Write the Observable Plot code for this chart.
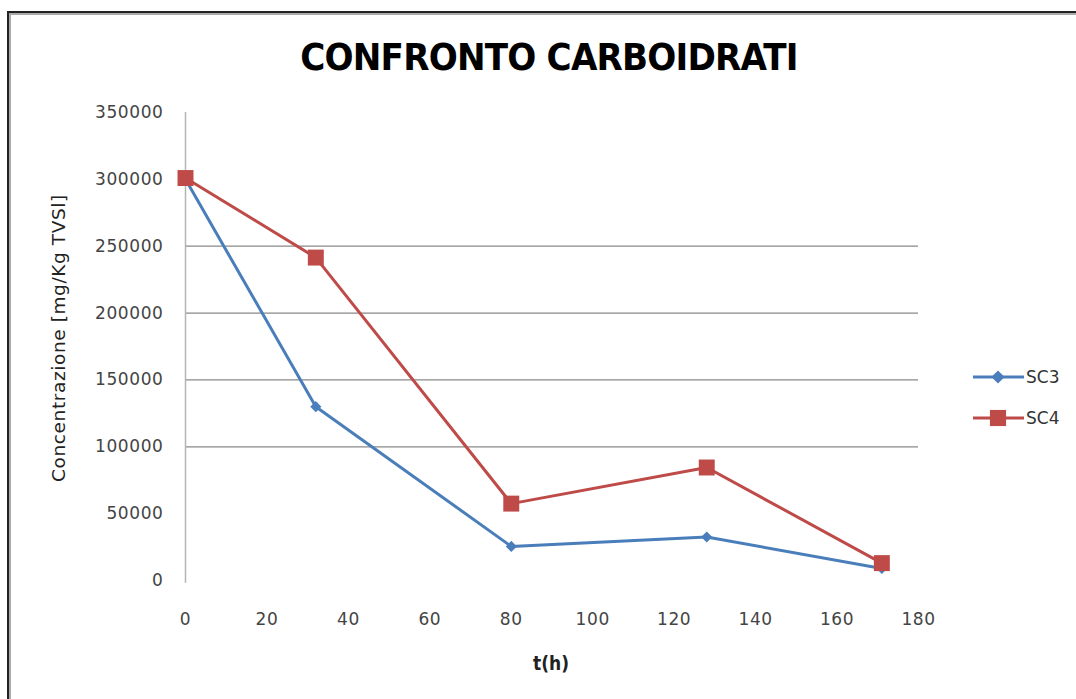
<!DOCTYPE html>
<html>
<head>
<meta charset="utf-8">
<script src="https://cdn.jsdelivr.net/npm/d3@7"></script>
<script src="https://cdn.jsdelivr.net/npm/@observablehq/plot@0.6"></script>
<style>
  html, body { margin: 0; padding: 0; background: #fff; }
  #wrap { position: relative; width: 1076px; height: 699px; overflow: hidden; background: #fff; }
  #frame { position: absolute; left: 7px; top: 11px; width: 1200px; height: 800px;
           border-left: 2px solid #222; border-top: 2px solid #222;
           box-shadow: inset 2px 2px 0 #aaa; }
  #title { position: absolute; left: 0; width: 1098px; top: 35px; text-align: center;
           font-family: "DejaVu Sans Condensed", "DejaVu Sans"; font-weight: bold; font-size: 38px;
           color: #000; letter-spacing: -0.8px; }
  #ylabel { position: absolute; left: 58px; top: 338px; transform: translate(-50%, -50%) rotate(-90deg);
            white-space: nowrap; font-family: "DejaVu Sans"; font-size: 18.5px; letter-spacing: 0.6px; color: #222; }
  #xlabel { position: absolute; left: 551px; top: 663px; transform: translate(-50%, -50%);
            font-family: "DejaVu Sans Condensed", "DejaVu Sans"; font-weight: bold; font-size: 19px; color: #222; }
  #chart { position: absolute; left: 0; top: 0; }
  #legend { position: absolute; left: 0; top: 0; }
</style>
</head>
<body>
<div id="wrap">
  <div id="frame"></div>
  <div id="chart"></div>
  <div id="title"></div>
  <div id="ylabel"></div>
  <div id="xlabel"></div>
  <svg id="legend" width="1076" height="699"></svg>
</div>
<script>
const titleText = "CONFRONTO CARBOIDRATI";
const yLabel = "Concentrazione [mg/Kg TVSl]";
const xLabel = "t(h)";
const seriesNames = ["SC3", "SC4"];
const seriesColors = ["#4a7ebb", "#be4b48"];
const hours = [0, 32, 80, 128, 171];
const sc3 = [300000, 130000, 25500, 32500, 9000];
const sc4 = [301000, 241500, 57500, 84500, 13000];
const xTicks = [0, 20, 40, 60, 80, 100, 120, 140, 160, 180];
const yTicks = [0, 50000, 100000, 150000, 200000, 250000, 300000, 350000];
const gridValues = [100000, 150000, 200000, 250000];

document.getElementById("title").textContent = titleText;
document.getElementById("ylabel").textContent = yLabel;
document.getElementById("xlabel").textContent = xLabel;

const data = [];
hours.forEach((h, i) => {
  data.push({t: h, v: sc3[i], s: seriesNames[0]});
  data.push({t: h, v: sc4[i], s: seriesNames[1]});
});
const d3data = data.filter(d => d.s === "SC3");
const d4data = data.filter(d => d.s === "SC4");

const chart = Plot.plot({
  width: 1076,
  height: 699,
  marginLeft: 185,
  marginRight: 158,
  marginTop: 112,
  marginBottom: 119,
  style: {fontFamily: "DejaVu Sans", fontSize: "17px", color: "#444", background: "transparent", letterSpacing: "0.6px"},
  x: {domain: [0, 180]},
  y: {domain: [0, 350000]},
  marks: [
    Plot.ruleY(gridValues, {x1: 0, x2: 180, stroke: "#888", strokeWidth: 1.3, strokeOpacity: 1}),
    Plot.ruleX([0], {y1: -2000, y2: 350000, stroke: "#b5b5b5", strokeWidth: 1.5}),
    Plot.axisY({ticks: yTicks, tickSize: 0, tickPadding: 22, tickFormat: d => String(d), label: null}),
    Plot.axisX({ticks: xTicks, tickSize: 0, tickPadding: 32, tickFormat: d => String(d), label: null}),
    Plot.line(d3data, {x: "t", y: "v", stroke: seriesColors[0], strokeWidth: 3}),
    Plot.line(d4data, {x: "t", y: "v", stroke: seriesColors[1], strokeWidth: 3}),
    Plot.dot(d3data, {x: "t", y: "v", symbol: "diamond2", r: 5, fill: seriesColors[0], stroke: "none"}),
    Plot.dot(d4data, {x: "t", y: "v", symbol: "square", r: 9, fill: seriesColors[1], stroke: "none"})
  ]
});
document.getElementById("chart").appendChild(chart);

// legend
const lg = d3.select("#legend");
const items = [
  {name: seriesNames[0], color: seriesColors[0], sym: d3.symbolDiamond2, size: 110, y: 377},
  {name: seriesNames[1], color: seriesColors[1], sym: d3.symbolSquare, size: 260, y: 418}
];
items.forEach(it => {
  lg.append("line").attr("x1", 973).attr("x2", 1024).attr("y1", it.y).attr("y2", it.y)
    .attr("stroke", it.color).attr("stroke-width", 3);
  lg.append("path").attr("d", d3.symbol(it.sym, it.size)()).attr("transform", `translate(998,${it.y})`)
    .attr("fill", it.color);
  lg.append("text").attr("x", 1026).attr("y", it.y).attr("dy", "0.36em")
    .attr("font-family", "DejaVu Sans").attr("font-size", 17).attr("fill", "#333").text(it.name);
});
</script>
</body>
</html>
